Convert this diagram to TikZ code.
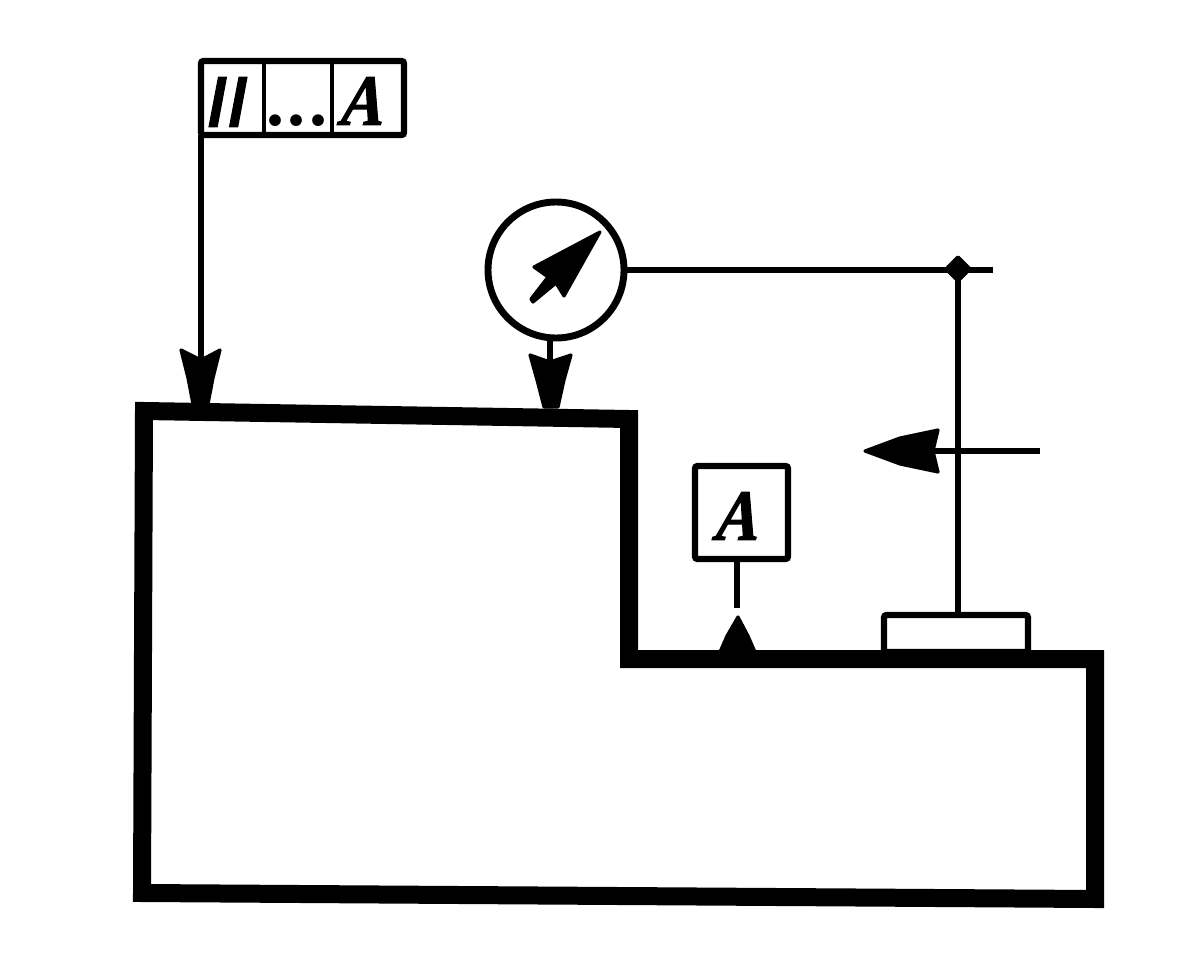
\documentclass[tikz,border=0pt]{standalone}
\usepackage{fontspec}
\setmainfont{Liberation Serif}
\newfontfamily\slashfont[FakeBold=2]{Liberation Sans}
\newfontfamily\letterfont[FakeStretch=0.9,FakeBold=1.5,FakeSlant=0.1]{Liberation Serif}
\tikzset{
  thickline/.style={line width=13.5pt,line join=miter},
  medline/.style={line width=4.8pt},
  thinline/.style={line width=3.8pt},
  ink/.style={fill=black,draw=black,line width=2.4pt,line join=round},
  box/.style={draw,medline,inner sep=0pt,outer sep=0pt,rectangle,rounded corners=2pt},
  lettering/.style={inner sep=0pt,outer sep=0pt,font=\fontsize{54}{54}\letterfont\bfseries\itshape\selectfont},
}
\begin{document}
\begin{tikzpicture}[x=0.75pt,y=-0.75pt]
\useasboundingbox[fill=white] (0,0) rectangle (1196,977);
% part outline
\draw[thickline] (144,411) -- (629,419) -- (629,659) -- (1095,659) -- (1095,899) -- (142,893) -- cycle;
% tolerance frame
\node[box,minimum width=152.25pt,minimum height=55.5pt] (frame) at (302.5,98) {};
\node[lettering,font=\fontsize{50}{50}\slashfont\bfseries\selectfont] (sym) at (228,102) {/\hspace{1.5pt}/};
\node[lettering] (fa) at (362,101) {A};
\node[inner sep=0pt,font=\fontsize{54}{54}\selectfont\bfseries] (dots) at (297,121) {.\hspace{3pt}.\hspace{3pt}.};
\coordinate (d1t) at (264,61); \coordinate (d1b) at (264,135);
\coordinate (d2t) at (332,61); \coordinate (d2b) at (332,135);
\draw[line width=2.4pt] (d1t) -- (d1b);
\draw[line width=2.8pt] (d2t) -- (d2b);
% left leader
\coordinate (ltop) at (201,135);
\coordinate (lnotch) at (201,360);
\draw[thinline] (ltop) -- (lnotch);
\fill[ink] (181,350) -- (201,360) -- (220,350) -- (213,378) -- (208,404) -- (193,404) -- (188,378) -- cycle;
% dial gauge
\node[draw,circle,line width=5.2pt,minimum size=102pt,inner sep=0pt,outer sep=0pt] (dial) at (556,270) {};
\fill[ink] (600,232) -- (534,267) -- (548,277) -- (531,299) -- (533,302) -- (556,283) -- (564,296) -- cycle;
\coordinate (dnotch) at (550,362);
\draw[thinline] (dial.south -| dnotch) -- (dnotch);
\fill[ink] (530,355) -- (550,362) -- (571,355) -- (564,380) -- (558,407) -- (544,407) -- (537,380) -- cycle;
% stand
\coordinate (hend) at (993,270);
\coordinate (joint) at (958,269);
\draw[thinline] (dial.east) -- (hend);
\fill[ink] (joint) ++(0,-12) -- ++(12,12) -- ++(-12,12) -- ++(-12,-12) -- cycle;
\node[box,minimum width=108pt,minimum height=27.75pt] (base) at (956,633.5) {};
\draw[thinline] (joint) -- (joint |- base.north);
% direction arrow
\coordinate (atail) at (1040,451);
\coordinate (anotch) at (934,451);
\draw[thinline] (atail) -- (anotch);
\fill[ink] (865,451) -- (900,438) -- (938,430) -- (933,451) -- (938,472) -- (900,464) -- cycle;
% datum box
\node[box,minimum width=69.75pt,minimum height=69.75pt] (datum) at (741.5,512.5) {};
\node[lettering] (da) at (737,516) {A};
\coordinate (dattip) at (737,608);
\draw[thinline] (da |- datum.south) -- (dattip);
\fill[ink] (738,617) -- (727,636) -- (720,652) -- (755,652) -- (748,636) -- cycle;
\end{tikzpicture}
\end{document}
